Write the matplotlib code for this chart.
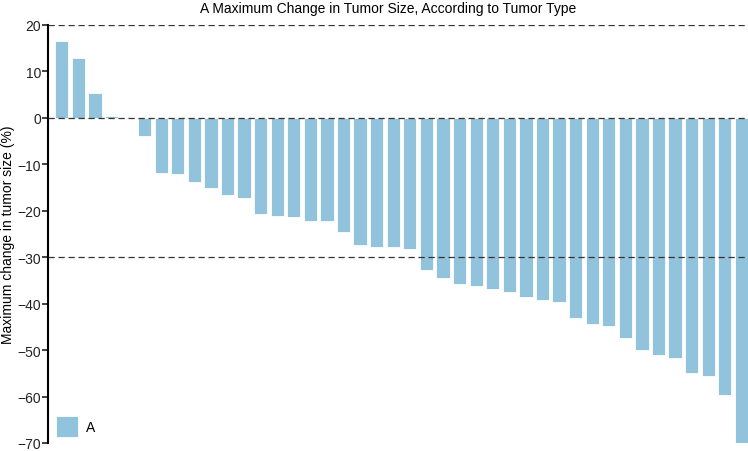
import numpy as np
import matplotlib.pyplot as plt

plt.rcParams['font.family'] = ['Liberation Sans', 'DejaVu Sans']

# max change in tumor size per patient (%), sorted
changes = [16.6, 13.0, 5.3, 0.3, 0.0, -3.9,
           -11.8, -12.0, -13.9, -15.2, -16.5, -17.3,
           -20.6, -21.1, -21.3, -22.1, -22.3, -24.6, -27.4, -27.7, -27.7, -28.2,
           -32.8, -34.4, -35.7, -36.3, -36.8, -37.4, -38.6, -39.2, -39.6, -43.1,
           -44.4, -44.8, -47.3, -50.0, -51.0, -51.6, -55.0, -55.6, -59.7, -70.2]
ref_lines = [20, 0, -30]
yticks = list(range(-70, 21, 10))
bar_color = '#92c3dd'

fig = plt.figure(figsize=(7.48, 4.52), dpi=100)
ax = fig.add_axes([48 / 748, 8 / 452, 700 / 748, 418 / 452])

x = np.arange(len(changes))
ax.bar(x, changes, width=0.8, color=bar_color, edgecolor='white', linewidth=0.6,
       label='A', zorder=2)

for y in ref_lines:
    ax.axhline(y, color='#333333', linestyle=(0, (5, 3)), linewidth=0.9, zorder=3)

ax.set_xlim(-0.83, 41.4)
ax.set_ylim(-70, 20)
ax.set_yticks(yticks)
ax.set_xticks([])
ax.tick_params(axis='y', labelsize=10, length=4, width=1.2, pad=1, colors='#222222')

for s in ['top', 'right', 'bottom']:
    ax.spines[s].set_visible(False)
ax.spines['left'].set_linewidth(1.5)

ax.set_ylabel('Maximum change in tumor size (%)', fontsize=10, labelpad=2)
fig.text(388 / 748, 1 - 9 / 452, 'A Maximum Change in Tumor Size, According to Tumor Type',
         ha='center', va='center', fontsize=10)

ax.legend(loc='lower left', bbox_to_anchor=(8 / 700, 6 / 418), frameon=False,
          fontsize=10, handlelength=1.55, handleheight=2.0, borderpad=0,
          borderaxespad=0, handletextpad=0.6)

fig.savefig('out.png', dpi=100)
